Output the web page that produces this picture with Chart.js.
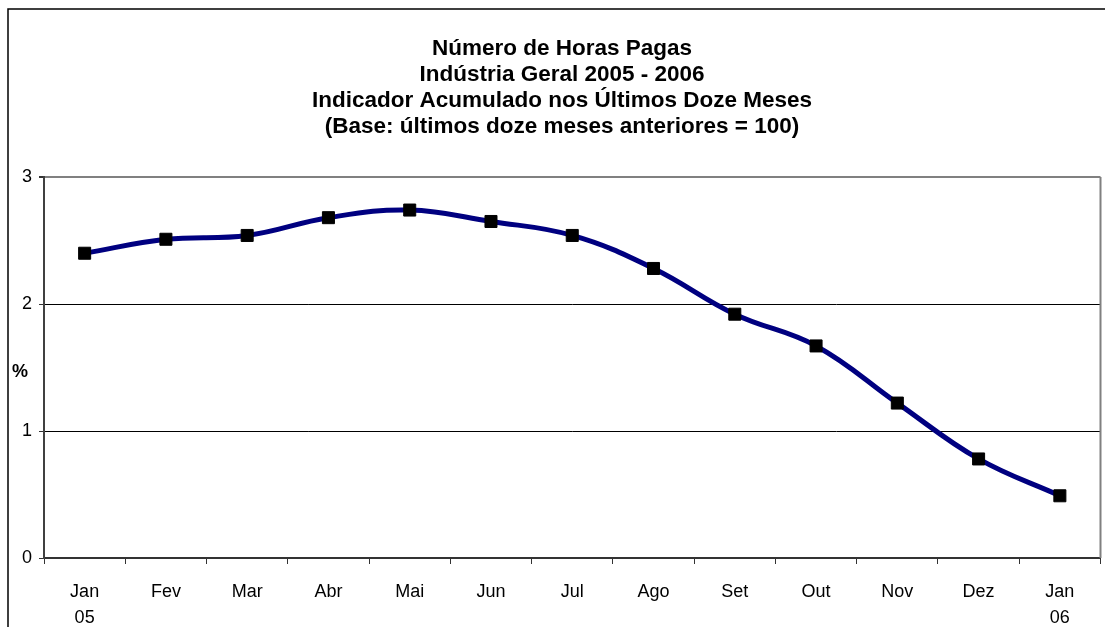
<!DOCTYPE html>
<html>
<head>
<meta charset="utf-8">
<script src="https://cdn.jsdelivr.net/npm/chart.js@4/dist/chart.umd.min.js"></script>
<style>
 html,body{margin:0;background:#fff;overflow:hidden;}
 #wrap{width:1110px;height:627px;position:relative;}
</style>
</head>
<body>
<div id="wrap"><canvas id="chart"></canvas></div>
<script>
const months=[["Jan","05"],"Fev","Mar","Abr","Mai","Jun","Jul","Ago","Set","Out","Nov","Dez",["Jan","06"]];
const horas=[2.40,2.51,2.54,2.68,2.74,2.65,2.54,2.28,1.92,1.67,1.22,0.78,0.49];
const yTicks=[0,1,2,3];
const titleLines=[
 "Número de Horas Pagas",
 "Indústria Geral 2005 - 2006",
 "Indicador Acumulado nos Últimos Doze Meses",
 "(Base: últimos doze meses anteriores = 100)"
];

/* moldura, borda direita e rótulo % */
const extras={
 id:"extras",
 beforeDraw(chart){
  const ctx=chart.ctx;
  ctx.save();
  ctx.strokeStyle="#000";
  ctx.lineWidth=1.5;
  ctx.beginPath();
  ctx.moveTo(8,627);ctx.lineTo(8,9);ctx.lineTo(1110,9);
  ctx.stroke();
  ctx.restore();
 },
 afterDatasetsDraw(chart){
  const a=chart.chartArea,ctx=chart.ctx;
  ctx.save();
  ctx.strokeStyle="#808080";
  ctx.lineWidth=2;
  ctx.beginPath();
  ctx.moveTo(a.right,a.top);ctx.lineTo(a.right,a.bottom);
  ctx.stroke();
  ctx.fillStyle="#000";
  ctx.font="bold 18px 'Liberation Sans', Arial, sans-serif";
  ctx.textAlign="center";
  ctx.textBaseline="middle";
  ctx.fillText("%",a.left-24,(a.top+a.bottom)/2+5);
  ctx.restore();
 }
};

new Chart(document.getElementById("chart"),{
 type:"line",
 data:{
  labels:months,
  datasets:[{
   data:horas,
   borderColor:"#000080",
   borderWidth:5,
   tension:0.4,
   pointStyle:"rect",
   pointRadius:8.5,
   pointBackgroundColor:"#000",
   pointBorderColor:"#000",
   pointBorderWidth:1,
   fill:false
  }]
 },
 options:{
  responsive:true,
  maintainAspectRatio:false,
  animation:false,
  layout:{padding:{left:14,right:0,top:0,bottom:0}},
  plugins:{
   legend:{display:false},
   tooltip:{enabled:false},
   title:{
    display:true,
    text:titleLines,
    color:"#000",
    font:{family:"'Liberation Sans', Arial, sans-serif",size:22.5,weight:"bold",lineHeight:1.156},
    padding:{top:36,bottom:37}
   }
  },
  scales:{
   x:{
    offset:true,
    grid:{drawOnChartArea:false,offset:true,tickLength:6,tickColor:"#333"},
    border:{display:true,color:"#333",width:2},
    ticks:{
     color:"#000",
     padding:15,
     maxRotation:0,
     autoSkip:false,
     font:{family:"'Liberation Sans', Arial, sans-serif",size:18,lineHeight:1.44}
    },
    afterFit(s){s.height=69;}
   },
   y:{
    min:0,max:3,
    afterBuildTicks(s){s.ticks=yTicks.map(v=>({value:v}));},
    grid:{
     color:c=>c.tick.value===3?"#808080":(c.tick.value===0?"rgba(0,0,0,0)":"#000"),
     lineWidth:c=>c.tick.value===3?2:1,
     tickLength:5,
     tickColor:"#333"
    },
    border:{display:true,color:"#404040",width:2},
    ticks:{
     color:"#000",
     padding:7,
     font:{family:"'Liberation Sans', Arial, sans-serif",size:18}
    },
    afterFit(s){s.width=30;}
   }
  }
 },
 plugins:[extras]
});
</script>
</body>
</html>
